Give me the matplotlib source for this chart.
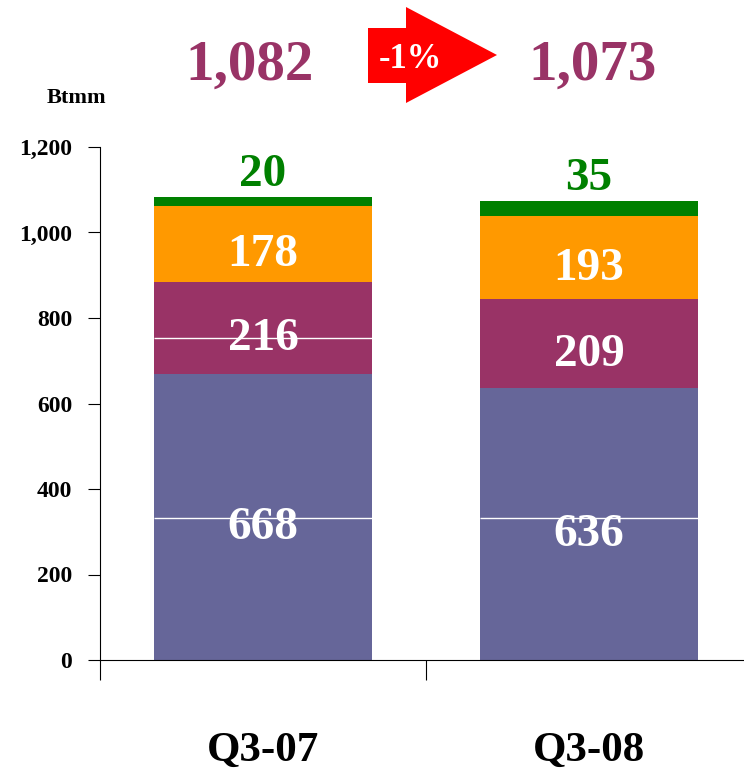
import matplotlib
matplotlib.use('Agg')
import matplotlib.pyplot as plt
from matplotlib.patches import Polygon

plt.rcParams['font.family'] = ['Liberation Serif', 'DejaVu Serif']
plt.rcParams['font.weight'] = 'bold'

# data
quarters = ['Q3-07', 'Q3-08']
base = [668, 636]        # blue
second = [216, 209]      # maroon
third = [178, 193]       # orange
top = [20, 35]           # green
totals = ['1,082', '1,073']
change = '-1%'
yticks = [0, 200, 400, 600, 800, 1000, 1200]
ytick_labels = ['0', '200', '400', '600', '800', '1,000', '1,200']
white_lines = [[332, 753], [332]]   # thin white lines seen across the bars

colors = ['#666699', '#993366', '#FF9900', '#008000']

W, H = 744, 780
fig = plt.figure(figsize=(W / 100, H / 100), dpi=100)
ax = fig.add_axes([100 / W, 1 - 660 / H, 652 / W, 513 / H])

x = list(range(len(quarters)))
bw = 0.67
bottom = [0, 0]
for vals, c in zip([base, second, third], colors[:3]):
    ax.bar(x, vals, bw, bottom=bottom, color=c, linewidth=0)
    for xi, v, b in zip(x, vals, bottom):
        ax.annotate(str(v), (xi, b + v / 2), xytext=(0, -16), textcoords='offset points',
                    ha='center', va='baseline', color='white', fontsize=34)
    bottom = [b + v for b, v in zip(bottom, vals)]

ax.bar(x, top, bw, bottom=bottom, color=colors[3], linewidth=0)
for xi, v, b in zip(x, top, bottom):
    ax.annotate(str(v), (xi, b + v), xytext=(0, 8), textcoords='offset points',
                ha='center', va='baseline', color='#008000', fontsize=34)

for xi, ys in zip(x, white_lines):
    ax.hlines(ys, xi - bw / 2, xi + bw / 2, color='white', linewidth=1)

# axes styling
ax.set_xlim(-0.5, 1.5)
ax.set_ylim(0, 1200)
ax.spines['top'].set_visible(False)
ax.spines['right'].set_visible(False)
ax.spines['left'].set_linewidth(0.8)
ax.spines['bottom'].set_linewidth(0.8)

ax.set_yticks(yticks)
ax.set_yticklabels(ytick_labels, fontsize=17)
ax.tick_params(axis='y', length=8.6, width=0.8, pad=11.5)

ax.set_xticks([-0.5, 0.5, 1.5])
ax.set_xticklabels(['', '', ''])
ax.tick_params(axis='x', which='major', length=14.4, width=0.8)
ax.set_xticks(x, minor=True)
ax.set_xticklabels(quarters, minor=True, fontsize=31)
ax.tick_params(axis='x', which='minor', length=0, pad=52)

# header: totals and change arrow
fig.text(250 / W, 1 - 80 / H, totals[0], ha='center', va='baseline', fontsize=41, color='#993366')
fig.text(593 / W, 1 - 80 / H, totals[1], ha='center', va='baseline', fontsize=41, color='#993366')

arrow_px = [(368, 28), (406, 28), (406, 7), (497, 55), (406, 103), (406, 83), (368, 83)]
fig.add_artist(Polygon([(px / W, 1 - py / H) for px, py in arrow_px], closed=True,
                       facecolor='#FF0000', edgecolor='none', transform=fig.transFigure))
fig.text(410 / W, 1 - 68 / H, change, ha='center', va='baseline', fontsize=25, color='white')

fig.text(47 / W, 1 - 103 / H, 'Btmm', ha='left', va='baseline', fontsize=16)

fig.savefig('out.png', dpi=100)
